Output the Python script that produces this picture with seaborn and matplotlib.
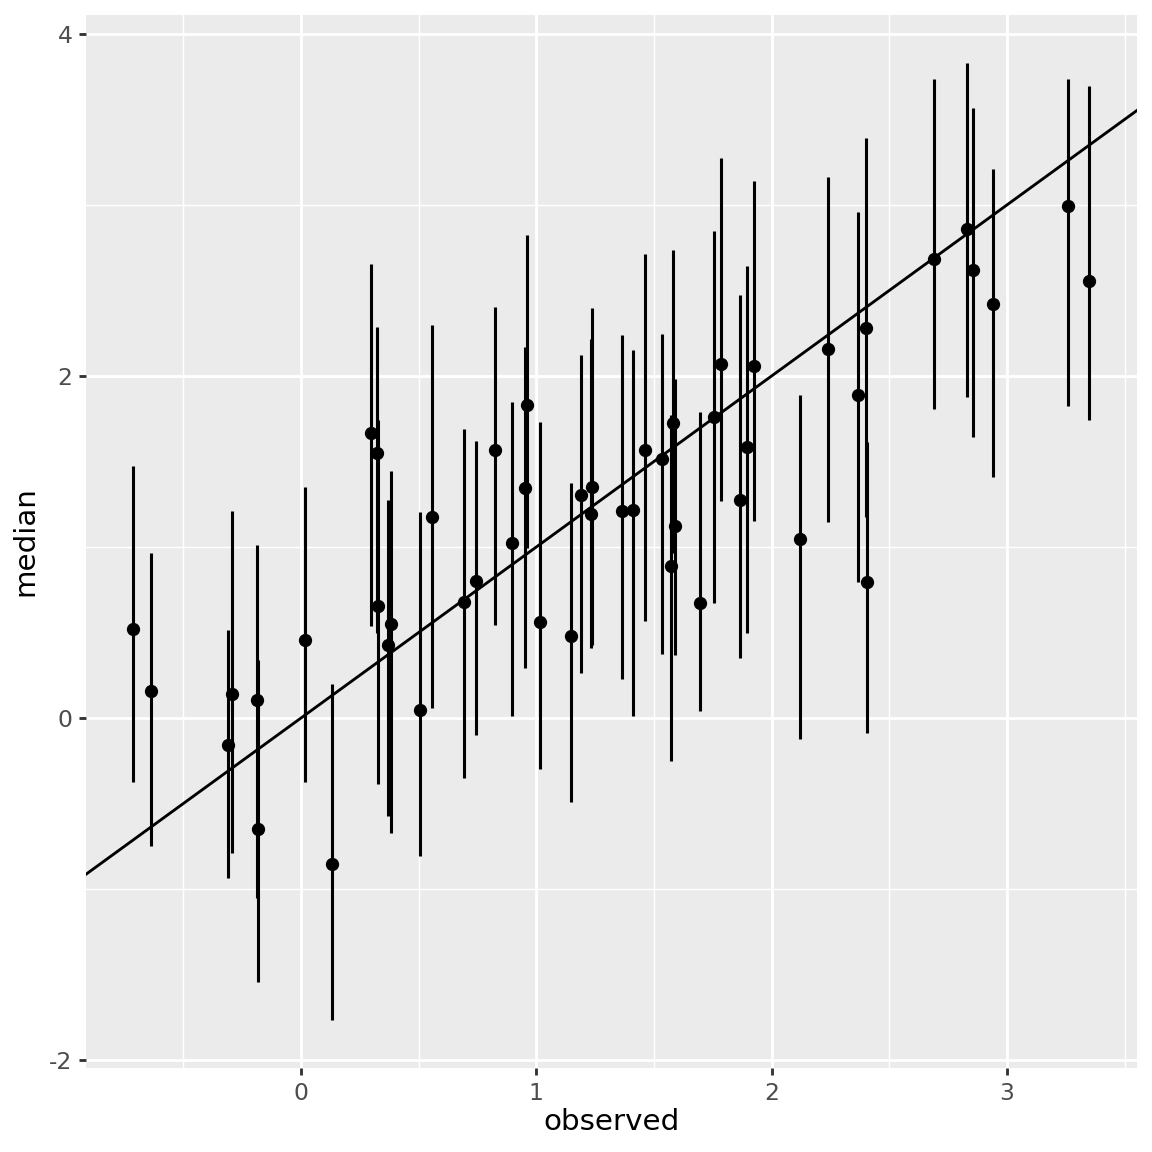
import matplotlib
matplotlib.use("Agg")
import matplotlib.pyplot as plt
import seaborn as sns
import pandas as pd
import numpy as np

observed = [-0.713, -0.639, -0.310, -0.294, -0.186, -0.184, 0.018, 0.132, 0.296, 0.322,
            0.325, 0.381, 0.368, 0.506, 0.558, 0.693, 0.742, 0.823, 0.895, 0.953,
            0.960, 1.016, 1.146, 1.191, 1.235, 1.232, 1.364, 1.410, 1.462, 1.534,
            1.574, 1.581, 1.591, 1.694, 1.756, 1.783, 1.864, 1.897, 1.925, 2.122,
            2.241, 2.366, 2.400, 2.404, 2.689, 2.830, 2.856, 2.939, 3.261, 3.350]
median = [0.520, 0.156, -0.157, 0.142, 0.103, -0.648, 0.455, -0.855, 1.668, 1.551,
          0.652, 0.550, 0.426, 0.049, 1.177, 0.676, 0.802, 1.565, 1.021, 1.342,
          1.833, 0.560, 0.480, 1.305, 1.348, 1.192, 1.212, 1.216, 1.568, 1.515,
          0.887, 1.723, 1.123, 0.671, 1.759, 2.068, 1.276, 1.582, 2.060, 1.048,
          2.160, 1.887, 2.282, 0.794, 2.682, 2.860, 2.617, 2.421, 2.996, 2.557]
lower = [-0.374, -0.751, -0.934, -0.789, -1.055, -1.544, -0.377, -1.764, 0.535, 0.494,
         -0.386, -0.673, -0.575, -0.807, 0.056, -0.350, -0.102, 0.543, 0.013, 0.292,
         0.992, -0.301, -0.491, 0.265, 0.427, 0.408, 0.229, 0.014, 0.566, 0.373,
         -0.254, 0.965, 0.368, 0.040, 0.671, 1.269, 0.349, 0.499, 1.152, -0.121,
         1.147, 0.794, 1.173, -0.087, 1.806, 1.877, 1.642, 1.409, 1.822, 1.741]
upper = [1.474, 0.965, 0.515, 1.208, 1.009, 0.338, 1.351, 0.199, 2.657, 2.285,
         1.741, 1.442, 1.272, 1.204, 2.300, 1.692, 1.619, 2.402, 1.850, 2.171,
         2.827, 1.729, 1.377, 2.120, 2.400, 2.216, 2.237, 2.149, 2.715, 2.244,
         1.772, 2.735, 1.981, 1.790, 2.849, 3.273, 2.471, 2.644, 3.141, 1.887,
         3.161, 2.957, 3.391, 1.613, 3.736, 3.833, 3.567, 3.213, 3.736, 3.697]

x_ticks = [0, 1, 2, 3]
y_ticks = [-2, 0, 2, 4]
x_minor = [-0.5, 0.5, 1.5, 2.5, 3.5]
y_minor = [-1, 1, 3]

df = pd.DataFrame({"observed": observed, "median": median, "lower": lower, "upper": upper})

plt.rcParams['font.family'] = ['DejaVu Sans']
plt.rcParams['axes.unicode_minus'] = False

DPI = 192
fig = plt.figure(figsize=(6, 6), dpi=DPI)
ax = fig.add_axes([86/1152, 1 - 1068/1152, (1137-86)/1152, (1068-15)/1152])
ax.set_facecolor("#EBEBEB")
for s in ax.spines.values():
    s.set_visible(False)

ax.set_xlim(-0.914, 3.553)
ax.set_ylim(-2.047, 4.111)

for v in x_minor:
    ax.axvline(v, color="white", lw=0.55, zorder=0.5)
for v in y_minor:
    ax.axhline(v, color="white", lw=0.55, zorder=0.5)
for v in x_ticks:
    ax.axvline(v, color="white", lw=1.07, zorder=0.6)
for v in y_ticks:
    ax.axhline(v, color="white", lw=1.07, zorder=0.6)

ax.vlines(df["observed"], df["lower"], df["upper"], color="black", lw=1.15, zorder=2)
sns.scatterplot(data=df, x="observed", y="median", ax=ax, color="black", s=20,
                edgecolor="black", linewidth=0.5, zorder=3)
ax.axline((0, 0), slope=1, color="black", lw=1.07, zorder=4)

ax.set_xticks(x_ticks)
ax.set_yticks(y_ticks)
ax.set_xticklabels([str(t) for t in x_ticks])
ax.set_yticklabels([str(t) for t in y_ticks])
ax.tick_params(axis="both", colors="#333333", length=2.6, width=1.07, labelsize=8.8,
               labelcolor="#4D4D4D", pad=2.5)
ax.set_xlabel("observed", fontsize=11, color="black", labelpad=1.3)
ax.set_ylabel("median", fontsize=11, color="black", labelpad=3.5)

fig.savefig("out.png", dpi=DPI, facecolor="white")
